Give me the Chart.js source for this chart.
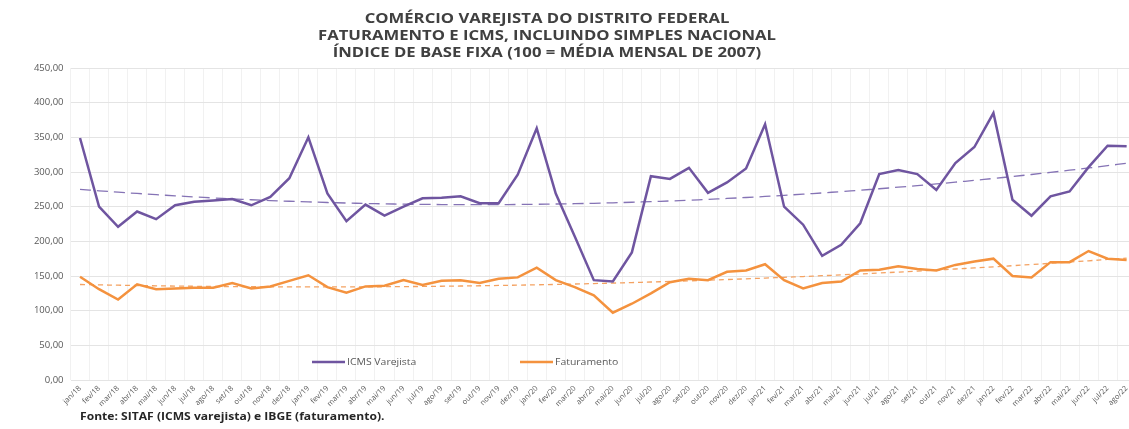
<!DOCTYPE html>
<html>
<head>
<meta charset="utf-8">
<script src="https://cdn.jsdelivr.net/npm/chart.js@4/dist/chart.umd.min.js"></script>
<style>
  html, body { margin: 0; padding: 0; background: #ffffff; overflow: hidden; }
  #wrap { width: 1137px; height: 429px; }
</style>
</head>
<body>
<div id="wrap"><canvas id="varejoChart"></canvas></div>
<script>
'use strict';

const months = [
  'jan/18', 'fev/18', 'mar/18', 'abr/18', 'mai/18', 'jun/18', 'jul/18', 'ago/18', 'set/18', 'out/18', 'nov/18', 'dez/18',
  'jan/19', 'fev/19', 'mar/19', 'abr/19', 'mai/19', 'jun/19', 'jul/19', 'ago/19', 'set/19', 'out/19', 'nov/19', 'dez/19',
  'jan/20', 'fev/20', 'mar/20', 'abr/20', 'mai/20', 'jun/20', 'jul/20', 'ago/20', 'set/20', 'out/20', 'nov/20', 'dez/20',
  'jan/21', 'fev/21', 'mar/21', 'abr/21', 'mai/21', 'jun/21', 'jul/21', 'ago/21', 'set/21', 'out/21', 'nov/21', 'dez/21',
  'jan/22', 'fev/22', 'mar/22', 'abr/22', 'mai/22', 'jun/22', 'jul/22', 'ago/22'
];

const icmsVarejista = [
  349, 250, 221, 243, 232, 252, 257, 259, 261, 252, 264, 291,
  350, 269, 229, 253, 237, 250, 262, 263, 265, 255, 255, 296,
  363, 269, 207, 144, 142, 184, 294, 290, 306, 270, 285, 305,
  369, 250, 224, 179, 195, 226, 297, 303, 297, 274, 313, 336,
  385, 260, 237, 265, 272, 307, 338, 337
];

const faturamento = [
  149, 131, 116, 138, 131, 132, 133, 133, 140, 132, 135, 143,
  151, 134, 126, 135, 136, 144, 137, 143, 144, 140, 146, 148,
  162, 144, 134, 122, 97, 110, 125, 141, 146, 144, 156, 158,
  167, 144, 132, 140, 142, 158, 159, 164, 160, 158, 166, 171,
  175, 150, 148, 170, 170, 186, 175, 173
];

const yTicks = [0, 50, 100, 150, 200, 250, 300, 350, 400, 450];

const titleLines = [
  'COMÉRCIO VAREJISTA DO DISTRITO FEDERAL',
  'FATURAMENTO E ICMS, INCLUINDO SIMPLES NACIONAL',
  'ÍNDICE DE BASE FIXA (100 = MÉDIA MENSAL DE 2007)'
];
const footerText = 'Fonte: SITAF (ICMS varejista) e IBGE (faturamento).';

const purple = '#6f55a0';
const orange = '#f4923e';
const fontFamily = "'Open Sans', sans-serif";

// least squares polynomial fit, same as the Excel trendlines (order 2)
function polyTrend(values, order) {
  const n = order + 1;
  const m = [];
  for (let r = 0; r < n; r++) {
    m.push(new Array(n + 1).fill(0));
  }
  values.forEach((v, x) => {
    for (let r = 0; r < n; r++) {
      for (let c = 0; c < n; c++) m[r][c] += Math.pow(x, r + c);
      m[r][n] += v * Math.pow(x, r);
    }
  });
  for (let i = 0; i < n; i++) {
    for (let k = i + 1; k < n; k++) {
      const f = m[k][i] / m[i][i];
      for (let c = i; c <= n; c++) m[k][c] -= f * m[i][c];
    }
  }
  const coef = new Array(n).fill(0);
  for (let i = n - 1; i >= 0; i--) {
    let s = m[i][n];
    for (let c = i + 1; c < n; c++) s -= m[i][c] * coef[c];
    coef[i] = s / m[i][i];
  }
  return values.map((v, x) => coef.reduce((acc, c, p) => acc + c * Math.pow(x, p), 0));
}

const icmsTrend = polyTrend(icmsVarejista, 2);
const fatTrend = polyTrend(faturamento, 2);

// the source picture is stretched sideways, so text is widened a bit
function wideText(ctx, text, x, y, sx) {
  ctx.save();
  ctx.translate(x, y);
  ctx.scale(sx, 1);
  ctx.fillText(text, 0, 0);
  ctx.restore();
}

// title, footer and the legend that sits inside the plot
const decorPlugin = {
  id: 'decor',
  afterDraw(chart) {
    const ctx = chart.ctx;
    const y = chart.scales.y;
    ctx.save();
    ctx.fillStyle = '#404040';
    ctx.textAlign = 'center';
    ctx.textBaseline = 'middle';
    ctx.font = 'bold 14.5px ' + fontFamily;
    titleLines.forEach((line, i) => wideText(ctx, line, 547, 19 + i * 17, 1.15));

    ctx.textAlign = 'left';
    ctx.font = 'bold 11px ' + fontFamily;
    ctx.fillStyle = '#262626';
    wideText(ctx, footerText, 80, 417, 1.1);

    const ly = y.getPixelForValue(26);
    const items = [
      {label: 'ICMS Varejista', color: purple, x: 312},
      {label: 'Faturamento', color: orange, x: 520}
    ];
    ctx.font = '9.5px ' + fontFamily;
    ctx.lineWidth = 2.5;
    items.forEach(it => {
      ctx.strokeStyle = it.color;
      ctx.beginPath();
      ctx.moveTo(it.x, ly);
      ctx.lineTo(it.x + 33, ly);
      ctx.stroke();
      ctx.fillStyle = '#595959';
      wideText(ctx, it.label, it.x + 35, ly, 1.1);
    });
    ctx.restore();
  }
};

const ctxChart = document.getElementById('varejoChart').getContext('2d');
const varejoChart = new Chart(ctxChart, {
  type: 'line',
  data: {
    labels: months,
    datasets: [{
      label: 'ICMS Varejista',
      data: icmsVarejista,
      borderColor: purple,
      borderWidth: 2.5,
      pointRadius: 0,
      tension: 0
    }, {
      label: 'Faturamento',
      data: faturamento,
      borderColor: orange,
      borderWidth: 2.5,
      pointRadius: 0,
      tension: 0
    }, {
      label: 'Polinomial (ICMS Varejista)',
      data: icmsTrend,
      borderColor: '#8573b5',
      borderWidth: 1.3,
      borderDash: [11, 6],
      pointRadius: 0,
      tension: 0.4
    }, {
      label: 'Polinomial (Faturamento)',
      data: fatTrend,
      borderColor: '#f4a262',
      borderWidth: 1.3,
      borderDash: [5, 4],
      pointRadius: 0,
      tension: 0.4
    }]
  },
  options: {
    responsive: true,
    maintainAspectRatio: false,
    animation: false,
    layout: {
      padding: {top: 68, left: 28.5, right: 0, bottom: 19}
    },
    scales: {
      x: {
        offset: true,
        grid: {
          offset: true,
          color: '#f1f1f1',
          drawTicks: false
        },
        border: {display: false},
        ticks: {
          autoSkip: false,
          minRotation: 45,
          maxRotation: 45,
          padding: 4,
          color: '#595959',
          font: {family: fontFamily, size: 7.5}
        },
        afterFit: scale => { scale.height = 30; }
      },
      y: {
        min: 0,
        max: 450,
        afterBuildTicks: scale => { scale.ticks = yTicks.map(v => ({value: v})); },
        grid: {
          color: '#e4e4e4',
          drawTicks: false
        },
        border: {display: false},
        ticks: {
          padding: 7,
          color: '#595959',
          font: {family: fontFamily, size: 9.5},
          callback: value => value.toFixed(2).replace('.', ',')
        },
        afterFit: scale => { scale.width = 42; }
      }
    },
    plugins: {
      legend: {display: false},
      title: {display: false},
      tooltip: {enabled: false}
    }
  },
  plugins: [decorPlugin]
});
</script>
</body>
</html>
